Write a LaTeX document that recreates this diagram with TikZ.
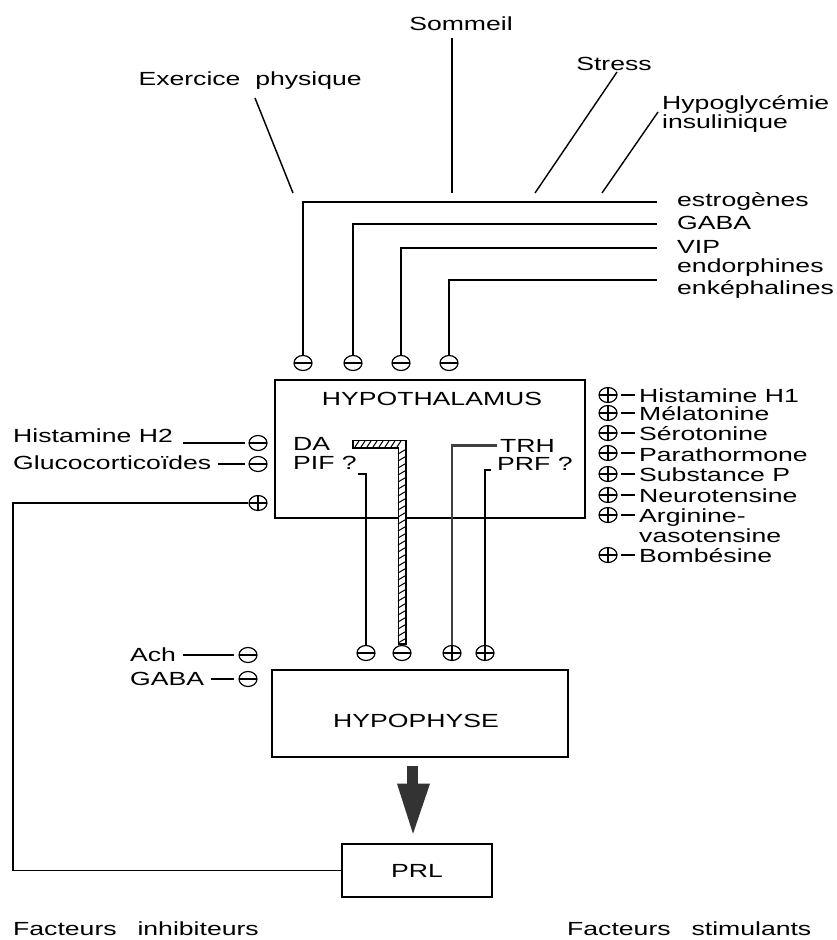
\documentclass[tikz,border=0pt]{standalone}
\usepackage{fontspec}
\setmainfont{Liberation Sans}[FakeStretch=1.4]
\usetikzlibrary{shapes.geometric}
\newcommand\lblfont{\fontsize{19}{21}\selectfont}
\begin{document}
\begin{tikzpicture}[x=1pt,y=-1pt,
  lbl/.style={inner sep=0pt, font=\lblfont, anchor=base west},
  ln/.style={line width=1.4pt},
  boxn/.style={draw, line width=1.4pt, inner sep=0pt},
  inh/.style={ellipse, draw, line width=1.2pt, minimum width=18pt, minimum height=15pt, inner sep=0pt,
    path picture={\draw[line width=1.2pt] (path picture bounding box.west) -- (path picture bounding box.east);}},
  stim/.style={ellipse, draw, line width=1.2pt, minimum width=18pt, minimum height=15pt, inner sep=0pt,
    path picture={\draw[line width=1.2pt] (path picture bounding box.west) -- (path picture bounding box.east)
       (path picture bounding box.north) -- (path picture bounding box.south);}},
  dashln/.style={line width=1.4pt, shorten <=3pt, shorten >=4pt}
]
\useasboundingbox (0,0) rectangle (837,940);

% ---------- top influences ----------
\node[lbl, anchor=base] (som) at (461,30) {Sommeil};
\node[lbl, anchor=base] (str) at (614,70) {Stress};
\node[lbl, anchor=base east] (exe) at (362,85) {Exercice\ \ physique};
\node[lbl] (hyg) at (662,109) {Hypoglycémie};
\node[lbl] (ins) at (662,128) {insulinique};

\coordinate (somA) at (452,38);  \coordinate (somB) at (452,193);
\coordinate (exeA) at (255,98);  \coordinate (exeB) at (293,193);
\coordinate (strA) at (617,72);  \coordinate (strB) at (535,193);
\coordinate (hygA) at (658,112); \coordinate (hygB) at (602,193);
\draw[ln] (somA) -- (somB);
\draw[ln] (exeA) -- (exeB);
\draw[ln] (strA) -- (strB);
\draw[ln] (hygA) -- (hygB);

% ---------- inhibitors from above ----------
\node[lbl] (est) at (677,206) {estrogènes};
\node[lbl] (gab) at (677,229) {GABA};
\node[lbl] (vip) at (677,253) {VIP};
\node[lbl] (end) at (677,272) {endorphines};
\node[lbl] (enk) at (677,294) {enképhalines};

\node[inh] (m1) at (303,363) {};
\node[inh] (m2) at (353,363) {};
\node[inh] (m3) at (401,363) {};
\node[inh] (m4) at (449,363) {};

\coordinate (estL) at (657,202);
\coordinate (gabL) at (657,224);
\coordinate (vipL) at (657,248);
\coordinate (endL) at (657,280);
\draw[ln] (estL) -| (m1.north);
\draw[ln] (gabL) -| (m2.north);
\draw[ln] (vipL) -| (m3.north);
\draw[ln] (endL) -| (m4.north);

% ---------- hypothalamus ----------
\node[boxn, minimum width=310pt, minimum height=138pt] (hyp) at (430,449) {};
\node[lbl, anchor=base] (hyptxt) at (432,405) {HYPOTHALAMUS};
\node[lbl] (da)  at (293,450) {DA};
\node[lbl] (pif) at (293,469) {PIF ?};
\node[lbl] (trh) at (500,452) {TRH};
\node[lbl] (prf) at (497,470) {PRF ?};

% left inhibitors
\node[lbl] (h2) at (13,442) {Histamine H2};
\node[lbl] (glu) at (13,469) {Glucocorticoïdes};
\node[inh] (ch2) at (258,443) {};
\node[inh] (cglu) at (258,464) {};
\draw[ln, shorten <=10pt, shorten >=3pt] (h2.east |- ch2.west) -- (ch2.west);
\draw[ln, shorten <=6pt, shorten >=3pt] (glu.east |- cglu.west) -- (cglu.west);

% right stimulants
\node[stim] (s1) at (608,395) {}; \node[lbl] (t1) at (639,402) {Histamine H1};
\node[stim] (s2) at (608,413) {}; \node[lbl] (t2) at (639,420) {Mélatonine};
\node[stim] (s3) at (608,433) {}; \node[lbl] (t3) at (639,440) {Sérotonine};
\node[stim] (s4) at (608,453) {}; \node[lbl] (t4) at (639,461) {Parathormone};
\node[stim] (s5) at (608,474) {}; \node[lbl] (t5) at (639,481) {Substance P};
\node[stim] (s6) at (608,495) {}; \node[lbl] (t6) at (639,502) {Neurotensine};
\node[stim] (s7) at (608,515) {}; \node[lbl] (t7) at (639,522) {Arginine-};
\node[lbl] (t7b) at (639,542) {vasotensine};
\node[stim] (s8) at (608,555) {}; \node[lbl] (t8) at (639,562) {Bombésine};
\foreach \i in {1,...,8} \draw[dashln] (s\i.east) -- (s\i.east -| t\i.west);

% ---------- hypothalamus -> hypophyse ----------
\node[inh]  (cpif) at (366,653) {};
\node[inh]  (cda)  at (402,653) {};
\node[stim] (ctrh) at (452,653) {};
\node[stim] (cprf) at (485,653) {};

% PIF
\draw[ln] ([xshift=1pt,yshift=-5pt]pif.base east) -| (cpif.north);
% DA hatched channel
\coordinate (dab) at (352,444);
\path (dab -| cda) coordinate (dac);
\draw[line width=9pt, line join=miter] (dab) -- (dac) -- (cda.north);
\draw[line width=6pt, white, line join=miter, shorten <=1.5pt, shorten >=1.5pt] (dab) -- (dac) -- (cda.north);
\foreach \x in {355,361,...,397} \draw[line width=1pt] (\x,447) -- (\x+4,441);
\foreach \y in {449,456,...,638} \draw[line width=1pt] (398,\y+5) -- (406.5,\y);
% TRH
\draw[line width=2.6pt, black!75] ([xshift=-3pt]trh.west) -| (ctrh.north);
% PRF
\draw[ln] ([xshift=-6pt]prf.base west) -| (cprf.north);

% ---------- hypophyse ----------
\node[boxn, minimum width=296pt, minimum height=87pt] (hpo) at (420,713.5) {};
\node[lbl, anchor=base] (hpotxt) at (416,727) {HYPOPHYSE};
\node[lbl] (ach) at (130,661) {Ach};
\node[lbl] (gb2) at (130,685) {GABA};
\node[inh] (cach) at (248,655) {};
\node[inh] (cgb2) at (248,679) {};
\draw[ln, shorten <=7pt, shorten >=4pt] (ach.east |- cach.west) -- (cach.west);
\draw[ln, shorten <=7pt, shorten >=4pt] (gb2.east |- cgb2.west) -- (cgb2.west);

% ---------- PRL ----------
\node[boxn, minimum width=150pt, minimum height=53pt, font=\lblfont] (prl) at (417,870.5) {PRL};
\fill[black!80] ([shift={(-13,8)}]hpo.south) rectangle ([shift={(-2,26)}]hpo.south);
\fill[black!80] ([shift={(-23,26)}]hpo.south) -- ([shift={(10,26)}]hpo.south) -- ([shift={(-7,76)}]hpo.south) -- cycle;

% feedback loop
\node[stim] (fb) at (258,503) {};
\coordinate (fbl) at (13,503);
\draw[ln] (prl.west) -| (fbl) -- (fb.west);

% ---------- footers ----------
\node[lbl] (fi) at (13,935) {Facteurs\hspace{1.1em}inhibiteurs};
\node[lbl] (fs) at (567,935) {Facteurs\hspace{1.1em}stimulants};
\end{tikzpicture}
\end{document}
